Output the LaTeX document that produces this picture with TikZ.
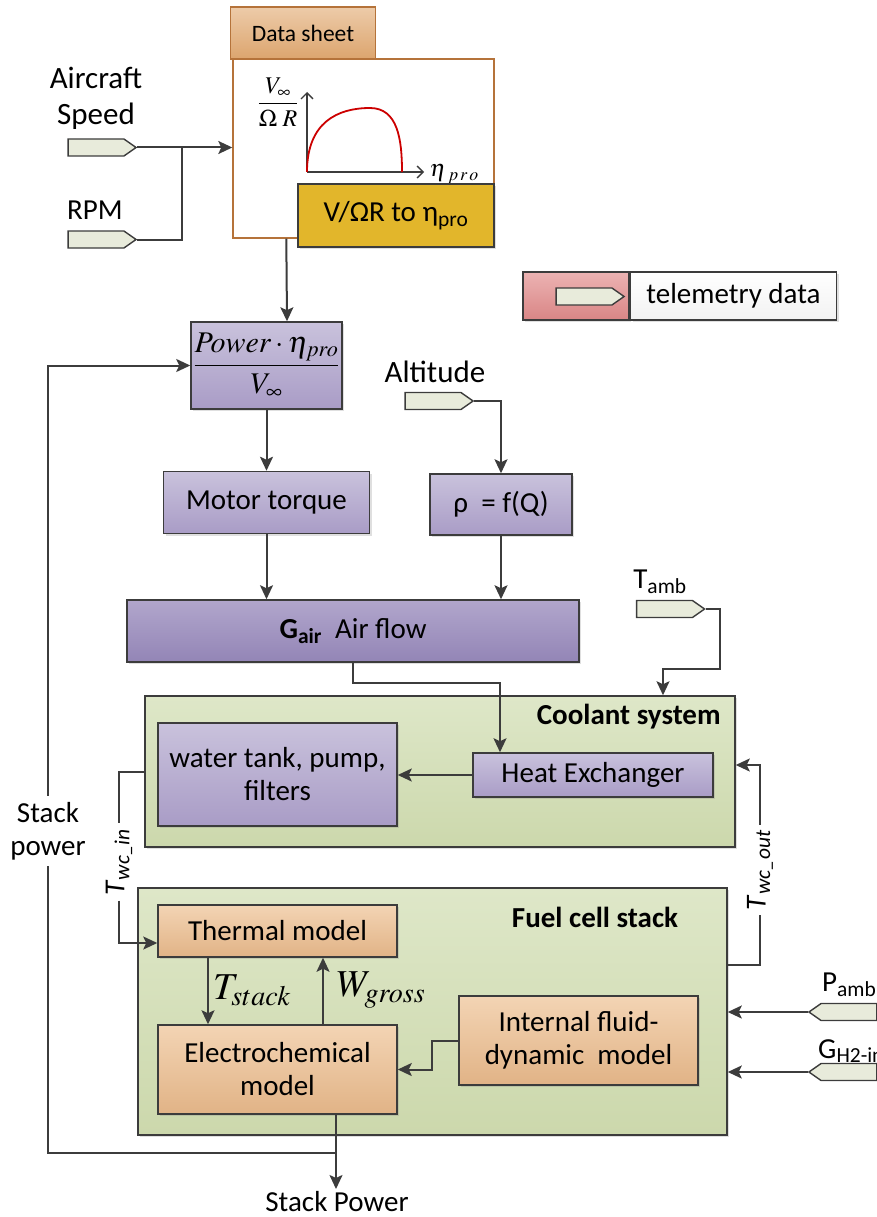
\documentclass[tikz,border=0pt]{standalone}
\usepackage{amsmath}
\usepackage{mathptmx}
\usepackage{fontspec}
\setmainfont{Carlito}
\usetikzlibrary{arrows.meta,positioning,shapes.symbols,shadows}
\definecolor{lnc}{HTML}{3C3C3C}
\definecolor{purT}{HTML}{C9C2DC}
\definecolor{purB}{HTML}{A99CC6}
\definecolor{airT}{HTML}{B1A6CC}
\definecolor{airB}{HTML}{9385B6}
\definecolor{grnT}{HTML}{DEE7C8}
\definecolor{grnB}{HTML}{CCD8AC}
\definecolor{orT}{HTML}{F3D4B4}
\definecolor{orB}{HTML}{E1B386}
\definecolor{tabT}{HTML}{EDCBA9}
\definecolor{tabM}{HTML}{C8823F}
\definecolor{tabB}{HTML}{DCA56E}
\definecolor{brn}{HTML}{B5733A}
\definecolor{yel}{HTML}{E2B62B}
\definecolor{telc}{HTML}{E8EBDB}
\definecolor{legT}{HTML}{ECB3B3}
\definecolor{legB}{HTML}{D98585}
\newcommand{\boxfont}{\fontsize{29}{33}\selectfont}
\newcommand{\inpfont}{\fontsize{31}{36}\selectfont}
\newcommand{\tabfont}{\fontsize{23.5}{27}\selectfont}
\newcommand{\bigmath}{\fontsize{38}{42}\selectfont}
\newcommand{\midmath}{\fontsize{30}{34}\selectfont}
\newcommand{\smlmath}{\fontsize{24}{28}\selectfont}
\tikzset{
  shd/.style    ={drop shadow={opacity=.25, shadow xshift=2pt, shadow yshift=-2pt}},
  blk/.style    ={rectangle, draw=lnc, line width=1.5pt, top color=purT, bottom color=purB,
                  align=center, inner sep=0pt, font=\boxfont, shd},
  airblk/.style ={blk, top color=airT, bottom color=airB},
  grp/.style    ={rectangle, draw=lnc, line width=1.5pt, top color=grnT, bottom color=grnB,
                  inner sep=0pt, shd},
  thm/.style    ={rectangle, draw=lnc, line width=1.5pt, top color=orT, bottom color=orB,
                  align=center, inner sep=0pt, font=\boxfont, shd},
  sheet/.style  ={rectangle, draw=brn, line width=1.4pt, fill=white, inner sep=0pt,
                  minimum width=261pt, minimum height=179pt},
  tab/.style    ={rectangle, draw=brn, line width=1.4pt, top color=tabT, middle color=tabM,
                  bottom color=tabB, inner sep=0pt, font=\tabfont,
                  minimum width=145pt, minimum height=52pt},
  lut/.style    ={rectangle, draw=lnc, line width=1.8pt, fill=yel, inner sep=0pt,
                  font=\boxfont, minimum width=196pt, minimum height=63pt, shd},
  tel/.style    ={signal, signal to=east, signal pointer angle=70, draw=lnc, line width=1.4pt,
                  fill=telc, inner sep=0pt, minimum width=68pt, minimum height=17pt},
  telw/.style   ={tel, signal to=west},
  leg/.style    ={rectangle, draw=lnc, line width=1.5pt, top color=legT, bottom color=legB,
                  inner sep=0pt, shd},
  legt/.style   ={rectangle, draw=lnc, line width=1.5pt, top color=white, bottom color=black!5,
                  inner sep=0pt, font=\boxfont, shd},
  lbl/.style    ={inner sep=2pt, font=\boxfont, align=center},
  ttl/.style    ={inner sep=0pt, font=\boxfont\bfseries},
  vlbl/.style   ={rotate=90, inner xsep=5pt, inner ysep=0pt, font=\boxfont},
  ln/.style     ={line width=2pt, draw=lnc},
  ar/.style     ={-{Stealth[length=14pt, width=13pt, inset=3pt]}, line width=2pt, draw=lnc},
  axis/.style   ={-{Straight Barb[length=6pt, width=12pt]}, line width=1.3pt, draw=lnc},
  curve/.style  ={line width=1.8pt, draw=red!80!black},
}

\begin{document}
\begin{tikzpicture}[x=1pt, y=-1pt, font=\boxfont]
\useasboundingbox (0,0) rectangle (877,1217);

% data sheet
\node[sheet] (ds) at (363.5,148.5) {};
\node[tab] (tb) at (303,33) {Data sheet};
\coordinate (org) at (307,172);
\draw[axis] (org) -- (307,92);
\draw[axis] (org) -- (424,172);
\draw[curve] (org) .. controls (307,122) and (338,108) .. (370,108)
                   .. controls (398,108) and (402,140) .. (402,172);
\node[font=\smlmath] (vr) at (278,102) {$\dfrac{V_\infty}{\Omega\;R}$};
\node[font=\smlmath, anchor=west] (eta) at (426,174) {$\eta_{\;p\,r\,o}$};
\node[lut] (lut) at (396,215.5) {V/ΩR to η\textsubscript{pro}};

\node[lbl, font=\inpfont] (spdl) at (96,98) {Aircraft\\Speed};
\node[tel] (spd) at (96,147.5) {};
\node[lbl] (rpml) at (95,210) {RPM};
\node[tel] (rpm) at (96,239.5) {};
\coordinate (jn) at (182,147.5);
\draw[ar] (spd.east) -- (spd.east -| ds.west);
\draw[ln] (rpm.east) -| (jn);

\node[leg, minimum width=106pt, minimum height=48pt] (lgk) at (576,296) {};
\node[tel] (lgs) at (584,296.5) {};
\node[legt, minimum width=206pt, minimum height=48pt, right=0pt of lgk] (lgt) {telemetry data};

% air path
\node[blk, minimum width=151pt, minimum height=87pt, font=\midmath] (pw) at (266.5,365.5)
  {$\dfrac{Power\cdot\eta_{pro}}{V_\infty}$};
\node[blk, minimum width=206pt, minimum height=62pt, below=61pt of pw] (mt) {Motor torque};
\node[lbl, font=\inpfont] (altl) at (435,372) {Altitude};
\node[tel] (alt) at (433,401) {};
\node[blk, minimum width=142pt, minimum height=61pt] (rho) at (501,504.5) {ρ~~= f(Q)};
\node[airblk, minimum width=452pt, minimum height=62pt] (air) at (353,631)
  {\textbf{G\textsubscript{air}}~ Air flow};

\draw[ar] ([xshift=54pt]ds.south west) -- ([xshift=20.5pt]pw.north);
\draw[ar] (pw.south) -- (mt.north);
\draw[ar] (mt.south) -- (mt.south |- air.north);
\draw[ar] (alt.east) -| (rho.north);
\draw[ar] (rho.south) -- (rho.south |- air.north);

% coolant system
\node[grp, minimum width=590pt, minimum height=151pt] (cs) at (440,771.5) {};
\node[ttl, anchor=north east] (cst) at ([xshift=-15pt, yshift=-9pt]cs.north east) {Coolant system};
\node[blk, minimum width=239pt, minimum height=103pt] (wt) at (277.5,774.5) {water tank, pump,\\filters};
\node[blk, minimum width=240pt, minimum height=44pt] (he) at (593,775) {Heat Exchanger};
\node[lbl] (tambl) at (660,582) {T\textsubscript{amb}};
\node[tel] (tamb) at (664.5,609) {};

\draw[ar] (air.south) -- ++(0,20) -| ([xshift=-93pt]he.north);
\draw[ar] (tamb.east) -| ++(14,60) -| ([xshift=223pt]cs.north);
\draw[ar] (he.west) -- (he.west -| wt.east);

% fuel cell stack
\node[grp, minimum width=589pt, minimum height=247pt] (fc) at (432.5,1011.5) {};
\node[ttl] (fct) at (595,917) {Fuel cell stack};
\node[thm, minimum width=239pt, minimum height=52pt] (tm) at (277.5,931) {Thermal model};
\node[thm, minimum width=239pt, minimum height=89pt] (ec) at (277.5,1069.5) {Electrochemical\\model};
\node[thm, minimum width=239pt, minimum height=89pt] (ifm) at (578.5,1040.5) {Internal fluid-\\dynamic~~model};
\node[font=\bigmath] (tst) at (252,990) {$T_{stack}$};
\node[font=\bigmath] (wgr) at (381,990) {$W_{gross}$};

\draw[ar] ([xshift=-69.5pt]tm.south) -- ([xshift=-69.5pt]ec.north);
\draw[ar] ([xshift=45.5pt]ec.north) -- ([xshift=45.5pt]tm.south);
\draw[ar] (ifm.west) -- ++(-26,0) |- (ec.east);

% water loop
\node[vlbl] (two) at (760,870) {\textit{T}\textsubscript{\textit{wc\_out}}};
\node[vlbl] (twi) at (119,862) {\textit{T}\textsubscript{\textit{wc\_in}}};
\draw[ln] ([yshift=46.5pt]fc.east) -| (two.west);
\draw[ar] (two.east) |- ([yshift=6.5pt]cs.east);
\draw[ln] (cs.west) -| (twi.east);
\draw[ar] (twi.west) |- ([yshift=-12pt]tm.west);

\node[lbl, anchor=west] (pambl) at (820,985) {P\textsubscript{amb}};
\node[telw] (pamb) at (849,1012) {};
\node[lbl, anchor=west] (gh2l) at (816,1051) {G\textsubscript{H2-in}};
\node[telw] (gh2) at (849,1072) {};
\draw[ar] (pamb.west) -- (pamb.west -| fc.east);
\draw[ar] (gh2.west) -- (gh2.west -| fc.east);

% stack power
\node[lbl, anchor=north] (sp) at (337,1189) {Stack Power};
\node[lbl, inner ysep=6pt] (spw) at (48,831) {Stack\\power};
\coordinate (fbj) at (336,1153);
\draw[ar] ([xshift=58.5pt]ec.south) -- (sp.north -| fbj);
\draw[ln] (fbj) -| (spw.south);
\draw[ar] (spw.north) |- (pw.west);

\end{tikzpicture}
\end{document}
